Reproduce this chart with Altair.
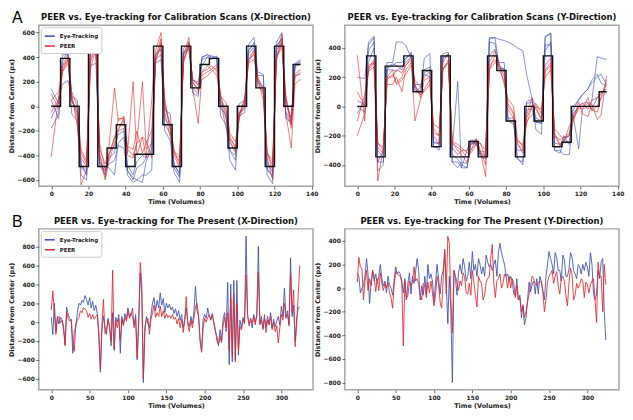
import altair as alt
import pandas as pd

# ---------------- data ----------------
SERIES = ["Eye-Tracking", "PEER"]

# Calibration scans: sample times (volumes) for the noisy traces
CAL_T = [0, 4, 6, 9, 11, 14, 16, 19, 21, 24, 26, 29, 31, 34, 36, 39, 41, 44,
         46, 49, 51, 54, 56, 59, 61, 64, 66, 69, 71, 74, 76, 79, 81, 84, 86, 89,
         91, 94, 96, 99, 101, 104, 106, 109, 111, 114, 116, 119, 121, 124, 126, 129,
         131, 134]

# fixation target (step function), one value per 5-volume block
TGT_T = [0, 5, 10, 15, 20, 25, 30, 35, 40, 45, 50, 55, 60, 65, 70, 75, 80, 85,
         90, 95, 100, 105, 110, 115, 120, 125, 130, 134]
TX = [0, 390, 0, -490, 490, -490, -340, -150, -490, -390, -390, 490, -150, -490,
      490, 150, 340, 390, 0, -340, 0, 490, 150, -490, 490, 0, 340, 340]
TY = [0, 345, -345, 275, 275, 345, 100, 245, -275, 345, -345, -345, -240, -345,
      345, 245, -100, -345, 0, -100, 345, -275, -245, 0, 0, 0, 100, 100]

# X-direction, eye-tracking traces
XB1 = [140, 20, 360, 450, 40, -40, -470, -560, 430, 500, -450, -540, -420, -380, -200, -180, -480, -560,
       -450, -400, -420, -380, 420, 470, -100, -170, -470, -560, 440, 500, 220, 170, 330, 400, 380, 410,
       40, -40, -300, -360, -60, 30, 450, 520, 220, 160, -450, -540, 480, 560, 20, -100, 330, 370]
XB2 = [-180, -60, 420, 420, -60, -120, -560, -600, 460, 480, -460, -500, -500, -560, -300, -250, -560, -620,
       -600, -560, -560, -520, 380, 420, -200, -280, -540, -620, 430, 460, 150, 100, 400, 420, 410, 380,
       -80, -150, -440, -520, -60, -20, 500, 560, 280, 260, -560, -630, 520, 600, -60, -150, 320, 350]
XB3 = [50, -100, 330, 370, 40, -20, -480, -520, 330, 350, -480, -560, -380, -320, -230, -200, -520, -600,
       -500, -470, -420, -300, 350, 380, -30, -60, -500, -580, 430, 480, 210, 200, 380, 400, 410, 400,
       20, -100, -360, -440, -80, -50, 430, 480, 250, 250, -500, -580, 460, 520, -40, -120, 350, 380]
XB4 = [-100, 40, 180, 210, 80, 50, -500, -540, 440, 470, -480, -520, -470, -440, -320, -340, -530, -580,
       -600, -620, -450, -340, 420, 460, -150, -220, -480, -540, 470, 520, 110, 80, 400, 420, 390, 390,
       -20, -60, -360, -400, 20, 50, 460, 500, 160, 120, -520, -560, 500, 540, -100, -130, 340, 360]
# X-direction, PEER traces
XR1 = [-410, 80, 300, 400, 60, -60, -380, -470, 300, 470, -300, -520, -400, -260, -200, -90, -400, -420,
       -300, 200, -350, -300, 350, 520, 0, -180, -380, -450, 350, 520, 200, 140, 280, 300, 330, 290,
       60, -20, -250, -330, -60, 50, 380, 420, 200, 100, -380, -440, 380, 520, 80, -150, 250, 260]
XR2 = [100, -20, 280, 350, 60, -100, -640, -520, 640, 500, -400, -600, -450, -300, -100, -100, -380, 200,
       -400, -250, -420, 50, 450, 600, -50, -250, -400, -500, 400, 560, 150, -140, 250, 280, 300, 250,
       40, -180, -280, -380, -80, 70, 350, 380, 220, 50, -420, -600, 400, 590, -50, -340, 180, 220]
XR3 = [50, 120, 330, 420, 100, -160, -420, -490, 380, 500, -380, -580, -400, -250, -180, -120, -350, -400,
       -300, -250, -280, -420, 380, 500, 20, -150, -360, -420, 380, 480, 220, 180, 280, 330, 300, 340,
       80, 30, -220, -290, -60, 0, 380, 460, 200, 150, -380, -480, 400, 480, 60, -100, 240, 280]
XR4 = [-50, 60, 280, 380, 120, 0, -350, -450, 360, 480, -350, -470, -330, 150, -120, -80, -330, -350,
       -200, -380, -300, -200, 400, 550, 60, -200, -360, -480, 360, 500, 200, 120, 220, 250, 280, 320,
       100, -100, -260, -340, -100, 30, 360, 440, 240, 120, -380, -520, 380, 550, 100, -180, 260, 300]

# Y-direction, eye-tracking traces
YB1 = [200, 190, 420, 470, -300, -350, 260, 280, 300, 300, 330, 360, 130, 100, 230, 250, -240, -260,
       330, 350, -330, -360, -400, -420, -260, -250, -340, -360, 470, 470, 460, 450, 440, 420, 400, 380,
       220, 50, -80, -100, 480, 500, -250, -260, -220, -200, -30, 50, 80, 120, 160, 200, 220, 150]
YB2 = [-50, 40, 440, 480, -440, -400, 300, 300, 440, 440, 420, 330, 120, 80, 330, 360, -280, -280,
       360, 370, -300, 170, -420, -300, -230, -230, -320, -330, 460, 470, 300, 300, -80, -80, -360, -380,
       30, 50, -160, -190, 470, 500, -300, -300, -330, -330, -60, -290, -20, 0, 30, 340, 330, 320]
YB3 = [40, 10, 380, 440, -380, -300, 250, 250, 240, 270, 300, 340, 150, 150, 220, 200, -250, -250,
       340, 340, -380, -380, -420, -420, -250, -260, -310, -310, 440, 430, 280, 250, -100, -120, -300, -300,
       20, 30, -110, -110, 420, 420, -280, -280, -200, -260, 0, 40, 80, 120, 180, 220, 160, 140]
YB4 = [0, -40, 300, 400, -380, -380, 270, 290, 280, 250, 320, 370, 100, 130, 250, 270, -270, -300,
       330, 360, -380, -420, -380, -390, -240, -250, -330, -340, 350, 390, 260, 260, -90, -100, -350, -400,
       -20, -20, -100, -120, 380, 440, -300, -320, -230, -200, -50, 0, 20, 30, -20, 60, 90, 120]
# Y-direction, PEER traces
YR1 = [350, -100, 250, 300, -250, -300, 200, 200, 250, 230, 280, 320, 150, 60, 180, 200, -150, -200,
       250, 320, -250, -300, -330, -380, -300, -220, -300, -480, 300, 380, 300, 200, 0, -50, -250, -320,
       -80, 10, -20, -80, 250, 300, -150, -200, -220, -180, -60, 0, -20, 60, -30, 0, 60, 180]
YR2 = [-200, -50, 280, 300, -510, -280, 150, 150, 200, 100, 250, 300, -100, 50, 120, 180, -120, -150,
       250, 300, -250, -280, -300, -350, -320, -260, -250, -300, 250, 350, 300, 150, 50, 0, -220, -280,
       -60, 60, 0, -20, 200, 250, -180, -260, -250, -130, -100, 30, -50, -70, 20, -90, -60, 210]
YR3 = [100, 0, 260, 320, -250, -280, 180, 220, 160, 200, 280, 330, 180, 130, 200, 240, -200, -260,
       300, 360, -280, -330, -300, -300, -260, -230, -300, -400, 280, 320, 260, 170, -20, -80, -260, -300,
       -100, -60, 0, -100, 280, 330, -200, -230, -210, -200, -80, -20, 0, 20, -20, -40, 60, 100]
YR4 = [-100, 80, 240, 270, -280, -320, 200, 250, 150, 180, 220, 280, 140, 80, 100, 150, -180, -200,
       260, 300, -240, -260, -280, -320, -300, -250, -250, -350, 250, 300, 280, 230, 20, -40, -240, -260,
       -120, 0, 20, -50, 240, 280, -200, -270, -230, -250, -100, 0, 20, -20, 40, 60, 80, 150]

# The Present: every second volume, 0..324
PRES_T = list(range(0, 325, 2))
PXB = [50, -130, 200, -100, 60, -20, 50, 30, -50, -240,
       160, 80, 40, 20, -330, -100, -50, 100, 200, 180,
       230, 210, 280, 240, 180, 260, 150, 220, 120, 180,
       90, -100, -530, -80, 60, -50, -130, 40, -60, -250,
       100, -300, 50, 0, 80, -330, 60, -20, 90, 30,
       150, 60, 100, 50, -30, 80, -400, 20, 520, 300,
       -640, -100, 60, -20, -60, 80, 200, 260, 120, 230,
       150, 310, 180, 250, 100, 200, 150, 190, 130, 160,
       90, 140, 60, 120, 20, 80, -60, 30, 150, 0,
       -50, 60, -20, 110, 380, 120, 60, -200, -310, 30,
       80, 40, 150, 60, 30, 90, -20, -100, -150, -250,
       -80, -200, 30, 100, -100, 420, -450, 400, -420, 440,
       -400, 440, -350, 20, -60, 50, -20, 910, 60, -20,
       40, -60, 80, 0, 60, 800, -30, 60, -80, 40,
       -50, 60, -20, 100, -60, 30, -50, 10, 60, -30,
       170, 60, 360, 40, 120, -40, 680, 60, 180, -200,
       40, 150, 160]
PXR = [130, 330, 100, -130, 40, 60, -10, 20, -80, -250,
       100, 40, 10, 30, -200, -310, -20, 20, 50, 120,
       100, 150, 140, 120, 50, 90, 30, 80, 30, 60,
       80, -170, -500, -40, 240, -120, -80, 20, -40, -200,
       550, -280, 20, -60, 40, -200, 30, -40, 50, 10,
       120, 40, 80, 150, -60, 40, -380, 0, 630, 400,
       -600, -50, 20, 40, -130, 30, 100, 180, 50, 100,
       60, 170, 60, 120, 40, 90, 50, 70, 40, 80,
       30, 50, -20, 40, -60, 30, -110, 10, 270, -30,
       -100, 20, -60, 40, 160, 200, 80, -180, -320, -60,
       40, 0, 50, 80, 20, 80, 0, -80, -200, -240,
       -150, -220, -40, 50, -60, 100, -300, 250, -350, 300,
       -420, 200, -300, -50, -80, 20, 0, 500, 80, -40,
       30, -10, 60, -30, 100, 530, -10, 20, -60, 80,
       -110, 20, -30, 60, -80, 0, -100, -40, -220, -60,
       80, 20, 200, 60, 80, -20, 520, 100, 340, -260,
       -30, 290, 600]
PYB = [130, 100, -40, 0, 20, 100, 250, 120, -130, 50,
       150, 60, 120, 40, 100, 200, 80, 20, 60, -40,
       100, 30, 0, -60, 60, 180, 120, 140, 120, 60,
       -40, 80, -100, 40, 130, -50, 100, 40, 140, 250,
       150, -100, 20, -60, 100, -50, 200, 80, 120, 60,
       -120, 50, 200, 80, -50, 100, 150, 300, 40, -300,
       100, -200, -800, 150, 80, -60, 130, 200, 120, 250,
       180, 60, 100, 220, 80, 310, 150, 200, 100, 250,
       200, 120, 180, 100, 280, 220, 180, 200, 150, 200,
       240, 100, 300, 380, 300, 250, 200, 100, 120, 60,
       100, 60, -50, -60, 80, -100, -60, -250, -150, -310,
       -250, -100, 50, -30, 30, 60, -50, 80, -50, 100,
       60, -20, -100, 100, 200, 310, 250, 200, 120, 300,
       260, 150, 150, 60, 280, 240, 100, 100, 160, 300,
       260, 150, 120, 80, 200, 180, 120, 200, 150, 220,
       180, 100, 300, 200, -50, -100, -50, 150, 80, 220,
       250, -200, -440]
PYR = [50, 260, 180, 170, -100, 60, 150, -20, 80, 20,
       150, 100, -30, 80, -20, 130, 40, -20, 40, 0,
       50, -40, -80, -170, 20, 140, 120, 110, 100, 50,
       -490, 60, -90, -60, 60, 20, 60, 180, 60, 80,
       30, -60, -100, 40, 20, -80, 50, -40, 60, -40,
       -150, -60, 100, 30, -120, -170, 80, 330, -50, 440,
       380, -100, -380, 150, 100, 50, -20, 60, 20, 130,
       90, -40, -50, 40, -60, 150, 50, -60, -160, 100,
       60, 40, -100, -60, 50, 80, 100, 250, 370, 40,
       -80, 60, 80, 120, 0, 40, 120, 100, 0, 100,
       0, 80, 40, -80, 20, -100, -80, -200, -140, -250,
       -200, -120, -50, 20, 100, 80, 40, 20, 40, 60,
       50, -40, -200, -100, 50, 100, 120, 150, 40, 100,
       140, 20, -50, 80, 100, 60, -60, -150, 40, 170,
       120, -100, -60, 40, 0, 30, 80, 60, -80, 50,
       30, -40, 30, 60, 80, -100, -290, 220, 100, 100,
       -200, 200, 30]

TITLES = [
    "PEER vs. Eye-tracking for Calibration Scans (X-Direction)",
    "PEER vs. Eye-tracking for Calibration Scans (Y-Direction)",
    "PEER vs. Eye-tracking for The Present (X-Direction)",
    "PEER vs. Eye-tracking for The Present (Y-Direction)",
]
X_TITLE = "Time (Volumes)"
Y_TITLE = "Distance from Center (px)"

# ---------------- styling ----------------
BLUE = "#3a4cb4"
RED = "#e3262a"
FONT = "DejaVu Sans"
W, H = 276, 162


def to_long(times, lines, series):
    rows = []
    for j, vals in enumerate(lines):
        if len(vals) != len(times):
            raise ValueError(f"{series} line {j}: {len(vals)} values vs {len(times)} times")
        for t, v in zip(times, vals):
            rows.append({"t": t, "v": v, "series": series, "run": f"{series}-{j}"})
    return pd.DataFrame(rows)


def panel(blue_lines, red_lines, times, target, title, xdom, xticks, ydom, yticks,
          opacity, show_legend, letter):
    xenc = alt.X("t:Q", scale=alt.Scale(domain=xdom, nice=False, zero=False),
                 axis=alt.Axis(values=xticks, title=X_TITLE))
    yenc = alt.Y("v:Q", scale=alt.Scale(domain=ydom, nice=False, zero=False),
                 axis=alt.Axis(values=yticks, title=Y_TITLE))
    if show_legend:
        leg = alt.Legend(title=None, orient="top-left", offset=2, padding=3,
                         strokeColor="#cfcfcf", fillColor="white", cornerRadius=2,
                         labelFont=FONT, labelFontWeight="bold", labelFontSize=5.5,
                         labelColor="#222", symbolType="stroke", symbolStrokeWidth=1.5,
                         symbolSize=100, symbolOpacity=1, rowPadding=0, labelOffset=4)
    else:
        leg = None
    color = alt.Color("series:N", scale=alt.Scale(domain=SERIES, range=[BLUE, RED]), legend=leg)

    blue = alt.Chart(to_long(times, blue_lines, SERIES[0])).mark_line(
        strokeWidth=1, opacity=opacity, clip=True).encode(x=xenc, y=yenc, color=color, detail="run:N")
    red = alt.Chart(to_long(times, red_lines, SERIES[1])).mark_line(
        strokeWidth=1, opacity=opacity, clip=True).encode(x=xenc, y=yenc, color=color, detail="run:N")
    layers = [blue, red]
    if target is not None:
        tdf = pd.DataFrame({"t": target[0], "v": target[1]})
        layers.append(alt.Chart(tdf).mark_line(color="#111111", strokeWidth=1.4,
                                               interpolate="step-after").encode(x=xenc, y=yenc))
    # panel title as a text mark centred over the plot frame
    layers.append(alt.Chart(pd.DataFrame({"title": [title]})).mark_text(
        align="center", baseline="bottom", font=FONT, fontWeight="bold", fontSize=8.5,
        color="#111111").encode(x=alt.value(W / 2), y=alt.value(-3), text="title:N"))
    if letter:
        layers.append(alt.Chart(pd.DataFrame({"label": [letter]})).mark_text(
            align="left", baseline="top", fontSize=16, font="Liberation Sans",
            color="black").encode(x=alt.value(-27), y=alt.value(-15), text="label:N"))
    return alt.layer(*layers).properties(width=W, height=H)


cal_xticks = [0, 20, 40, 60, 80, 100, 120, 140]
pres_xticks = [0, 50, 100, 150, 200, 250, 300]

p1 = panel([XB1, XB2, XB3, XB4], [XR1, XR2, XR3, XR4], CAL_T, (TGT_T, TX), TITLES[0],
           [-6.7, 140.7], cal_xticks, [-650, 660], [-600, -400, -200, 0, 200, 400, 600],
           0.6, True, "A")
p2 = panel([YB1, YB2, YB3, YB4], [YR1, YR2, YR3, YR4], CAL_T, (TGT_T, TY), TITLES[1],
           [-6.7, 140.7], cal_xticks, [-545, 555], [-400, -200, 0, 200, 400],
           0.6, False, None)
p3 = panel([PXB], [PXR], PRES_T, None, TITLES[2],
           [-16.3, 341.3], pres_xticks, [-717, 987], [-600, -400, -200, 0, 200, 400, 600, 800],
           0.85, True, "B")
p4 = panel([PYB], [PYR], PRES_T, None, TITLES[3],
           [-16.3, 341.3], pres_xticks, [-862, 502], [-800, -600, -400, -200, 0, 200, 400],
           0.85, False, None)

chart = alt.concat(p1, p2, p3, p4, columns=2, spacing={"row": 43, "column": 32},
                   bounds="flush", padding=0).resolve_scale(
    x="independent", y="independent", color="independent"
).configure_view(
    stroke="#a6a6a6", strokeWidth=1.5
).configure_axis(
    grid=False, domain=False, tickSize=3, tickColor="#444", tickWidth=0.8,
    labelFont=FONT, labelFontWeight="bold", labelFontSize=6, labelColor="#222", labelPadding=1.5,
    titleFont=FONT, titleFontWeight="bold", titleFontSize=6.5, titleColor="#222", titlePadding=2
)

chart.save("out.html", embed_options={"renderer": "svg", "actions": False})
